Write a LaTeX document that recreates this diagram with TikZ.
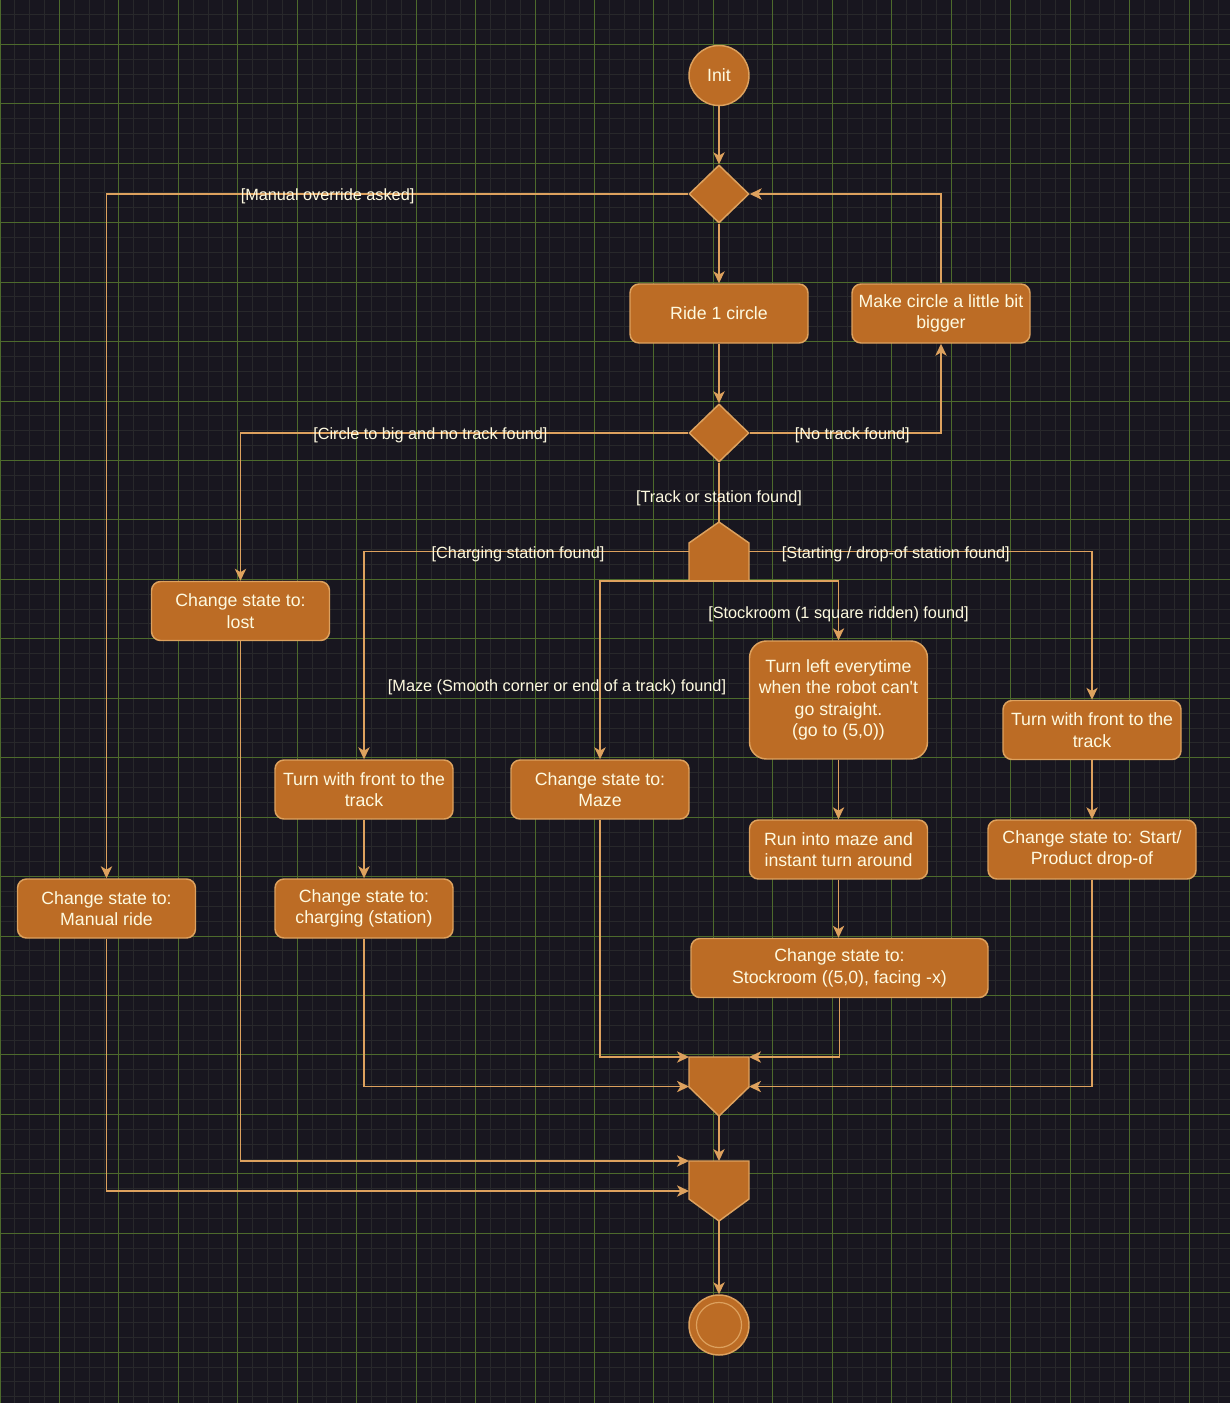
\documentclass[tikz,border=0pt]{standalone}
\usepackage{fontspec}
\setmainfont{Liberation Sans}
\usetikzlibrary{arrows.meta}
\usetikzlibrary{shapes.geometric}

\definecolor{bgdark}{HTML}{18161F}
\definecolor{gridminor}{HTML}{28282B}
\definecolor{gridmajor}{HTML}{4D6A2C}
\definecolor{actfill}{HTML}{BC6C25}
\definecolor{actline}{HTML}{DDA15E}
\definecolor{acttext}{HTML}{FEFAE0}

\tikzset{
    action/.style={draw=actline,fill=actfill,line width=1.1pt,rounded corners=6.75pt,
        minimum width=133.5pt,minimum height=44.25pt,align=center,inner sep=2pt,
        text=acttext,font=\fontsize{13.3}{16}\selectfont},
    decision/.style={diamond,draw=actline,fill=actfill,line width=1.1pt,
        minimum width=45pt,minimum height=43.5pt,inner sep=0pt},
    startstop/.style={circle,draw=actline,fill=actfill,line width=1.1pt,minimum size=45pt,
        inner sep=0pt,text=acttext,font=\fontsize{13.3}{16}\selectfont},
    barbox/.style={minimum width=45pt,inner sep=0pt,outer sep=0pt},
    bar/.style={draw=actline,fill=actfill,line width=1.1pt},
    link/.style={draw=actline,line width=1pt},
    flow/.style={link,-{Stealth[length=9pt,width=8.5pt,inset=2.5pt]}},
    guard/.style={text=acttext,font=\fontsize{12.2}{14.6}\selectfont,inner sep=0pt,yshift=-2pt}
}

\begin{document}
\begin{tikzpicture}[x=0.75pt,y=-0.75pt]

    % dark background
    \useasboundingbox (0,0) rectangle (1230,1403);
    \fill[bgdark] (0,0) rectangle (1230,1403);

    % draw grid
    \foreach \i in {0,...,83}
        \draw[gridminor,line width=0.75pt] ({\i*14.8625},0) -- ({\i*14.8625},1403);
    \foreach \j in {0,...,94}
        \draw[gridminor,line width=0.75pt] (0,{14.6+\j*14.8625}) -- (1230,{14.6+\j*14.8625});
    \foreach \i in {0,...,20}
        \draw[gridmajor,line width=0.75pt] ({\i*59.45},0) -- ({\i*59.45},1403);
    \foreach \j in {0,...,22}
        \draw[gridmajor,line width=0.75pt] (0,{44.3+\j*59.45}) -- (1230,{44.3+\j*59.45});

    % start, decisions
    \node[startstop] (init) at (719,75.5) {Init};
    \node[decision] (d1) at (719,194) {};
    \node[action] (ride) at (719,313.5) {Ride 1 circle};
    \node[action] (bigger) at (941,313.5) {Make circle a little bit\\bigger};
    \node[decision] (d2) at (719,433) {};

    % fork
    \node[barbox,minimum height=44.25pt] (fork) at (719,551.5) {};
    \filldraw[bar] (fork.south west) -- (fork.south east) -- ([yshift=-15.75pt]fork.north east)
        -- (fork.north) -- ([yshift=-15.75pt]fork.north west) -- cycle;

    % actions
    \node[action] (lost) at (240.5,611) {Change state to:\\lost};
    \node[action] (manual) at (106.5,908.5) {Change state to:\\Manual ride};
    \node[action] (turnL) at (364,789.5) {Turn with front to the\\track};
    \node[action] (charging) at (364,908.5) {Change state to:\\charging (station)};
    \node[action] (maze) at (600,789.5) {Change state to:\\Maze};
    \node[action,minimum height=88.5pt,rounded corners=12.75pt] (turnleft) at (838.5,700)
        {Turn left everytime\\when the robot can\textquotesingle t\\go straight.\\(go to (5,0))};
    \node[action] (runmaze) at (838.5,849.5) {Run into maze and\\instant turn around};
    \node[action,minimum width=222.75pt] (stockroom) at (839.5,968)
        {Change state to:\\Stockroom ((5,0), facing -x)};
    \node[action] (turnR) at (1092,730) {Turn with front to the\\track};
    \node[action,minimum width=156pt] (dropoff) at (1092,849.5) {Change state to: Start/\\Product drop-of};

    % joins
    \node[barbox,minimum height=44.25pt] (join1) at (719,1086.5) {};
    \filldraw[bar] (join1.north west) -- (join1.north east) -- ([yshift=21.75pt]join1.south east)
        -- (join1.south) -- ([yshift=21.75pt]join1.south west) -- cycle;
    \node[barbox,minimum height=45pt] (join2) at (719,1191) {};
    \filldraw[bar] (join2.north west) -- (join2.north east) -- ([yshift=16.5pt]join2.south east)
        -- (join2.south) -- ([yshift=16.5pt]join2.south west) -- cycle;

    % end
    \node[startstop] (final) at (719,1325) {};
    \draw[actline,line width=0.9pt] (final.center) circle[radius=16.9pt];

    % top loop
    \draw[flow] (init) -- (d1);
    \draw[flow] (d1) -- (ride);
    \draw[flow] (ride) -- (d2);
    \draw[flow] (bigger.north) |- (d1.east);
    \draw[flow] (d2.east) -| node[guard,pos=0.268] (gnotrack) {[No track found]} (bigger.south);
    \draw[flow] (d1.west) -| node[guard,pos=0.31] (goverride) {[Manual override asked]} (manual.north);
    \draw[flow] (d2.west) -| node[guard,pos=0.288] (glost) {[Circle to big and no track found]} (lost.north);
    \draw[link] (d2.south) -- node[guard,pos=0.55] (gtrack) {[Track or station found]} (fork.north);

    % branches of the fork
    \draw[flow] (fork.west) -| node[guard,pos=0.263] (gcharge) {[Charging station found]} (turnL.north);
    \draw[flow] (fork.east) -| node[guard,pos=0.214] (gstart) {[Starting / drop-of station found]} (turnR.north);
    \draw[flow] (fork.south) -| node[guard,pos=0.79,xshift=-32.25pt] (gmaze)
        {[Maze (Smooth corner or end of a track) found]} (maze.north);
    \draw[flow] (fork.south) -| node[guard,pos=0.758] (gstock) {[Stockroom (1 square ridden) found]} (turnleft.north);

    \draw[flow] (turnL) -- (charging);
    \draw[flow] (turnleft) -- (runmaze);
    \draw[flow] (runmaze.south) -- (runmaze.south |- stockroom.north);
    \draw[flow] (turnR) -- (dropoff);

    % into the joins
    \draw[flow] (charging.south) |- (join1.west);
    \draw[flow] (maze.south) |- (join1.north west);
    \draw[flow] (stockroom.south) |- (join1.north east);
    \draw[flow] (dropoff.south) |- (join1.east);
    \draw[flow] (join1.south) -- (join2.north);
    \draw[flow] (lost.south) |- (join2.north west);
    \draw[flow] (manual.south) |- (join2.west);
    \draw[flow] (join2.south) -- (final.north);

\end{tikzpicture}
\end{document}
